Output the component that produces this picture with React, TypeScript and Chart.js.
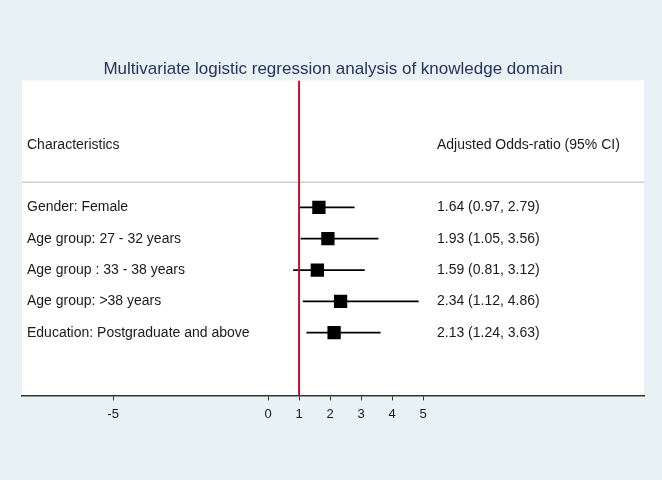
import React, { useEffect, useRef } from "react";
import { Chart, registerables } from "chart.js";

Chart.register(...registerables);

const titleText = "Multivariate logistic regression analysis of knowledge domain";
const headerLeft = "Characteristics";
const headerRight = "Adjusted Odds-ratio (95% CI)";
const characteristics = [
  "Gender: Female",
  "Age group: 27 - 32 years",
  "Age group : 33 - 38 years",
  "Age group: >38 years",
  "Education: Postgraduate and above",
];
const oddsRatio = [1.64, 1.93, 1.59, 2.34, 2.13];
const ciLower = [0.97, 1.05, 0.81, 1.12, 1.24];
const ciUpper = [2.79, 3.56, 3.12, 4.86, 3.63];
const xTickValues = [-5, 0, 1, 2, 3, 4, 5];
const referenceValue = 1;

const X_MIN = -7.94;
const X_MAX = 12.13;
const Y_MIN = -3.05;
const Y_MAX = 7;
const HEADER_ROW = -1;
const SEPARATOR_ROW = 0.2;

const BG = "#e8f1f4";
const FONT = '"Liberation Sans", Arial, Helvetica, sans-serif';

export default function App() {
  const ref = useRef<HTMLCanvasElement | null>(null);

  useEffect(() => {
    const canvas = ref.current;
    if (!canvas) return;

    const rows = characteristics.map((_, i) => i + 1);

    const bgPlugin = {
      id: "bgPlugin",
      beforeDraw(chart: any) {
        const { ctx, chartArea } = chart;
        ctx.save();
        ctx.fillStyle = "#ffffff";
        ctx.fillRect(0, 0, chart.width, chart.height);
        ctx.fillStyle = BG;
        ctx.fillRect(0, 0, chart.width, chart.height - 3);
        ctx.fillStyle = "#ffffff";
        ctx.fillRect(
          chartArea.left,
          chartArea.top,
          chartArea.right - chartArea.left,
          chartArea.bottom - chartArea.top
        );
        ctx.restore();
      },
      beforeDatasetsDraw(chart: any) {
        const { ctx, chartArea, scales } = chart;
        const ys = scales.y.getPixelForValue(SEPARATOR_ROW);
        ctx.save();
        ctx.strokeStyle = "#cfcfcf";
        ctx.lineWidth = 1.6;
        ctx.beginPath();
        ctx.moveTo(chartArea.left, ys);
        ctx.lineTo(chartArea.right, ys);
        ctx.stroke();

        ctx.fillStyle = "#1a1a1a";
        ctx.font = `14px ${FONT}`;
        ctx.textBaseline = "middle";
        ctx.textAlign = "left";
        const lx = chartArea.left + 5;
        const rx = scales.x.getPixelForValue(5.45);
        const yh = scales.y.getPixelForValue(HEADER_ROW);
        ctx.fillText(headerLeft, lx, yh);
        ctx.fillText(headerRight, rx, yh);
        characteristics.forEach((label, i) => {
          const y = scales.y.getPixelForValue(rows[i]);
          ctx.fillText(label, lx, y);
          const txt = `${oddsRatio[i].toFixed(2)} (${ciLower[i].toFixed(2)}, ${ciUpper[i].toFixed(2)})`;
          ctx.fillText(txt, rx, y);
        });
        ctx.restore();
      },
    };

    const ciDatasets = characteristics.map((_, i) => ({
      type: "line" as const,
      data: [
        { x: ciLower[i], y: rows[i] },
        { x: ciUpper[i], y: rows[i] },
      ],
      borderColor: "#000000",
      borderWidth: 1.8,
      pointRadius: 0,
      showLine: true,
      fill: false,
    }));

    const chart = new Chart(canvas, {
      type: "scatter",
      data: {
        datasets: [
          {
            type: "line",
            data: [
              { x: referenceValue, y: Y_MIN },
              { x: referenceValue, y: Y_MAX },
            ],
            borderColor: "#c8102e",
            borderWidth: 2,
            pointRadius: 0,
            showLine: true,
            fill: false,
          } as any,
          ...ciDatasets,
          {
            type: "scatter",
            data: oddsRatio.map((v, i) => ({ x: v, y: rows[i] })),
            pointStyle: "rect",
            pointRadius: 9.4,
            pointHoverRadius: 9.4,
            backgroundColor: "#000000",
            borderWidth: 0,
          } as any,
        ],
      },
      options: {
        animation: false,
        responsive: false,
        devicePixelRatio: 1,
        layout: { padding: { left: 22, right: 18, top: 0, bottom: 55 } },
        plugins: {
          legend: { display: false },
          tooltip: { enabled: false },
          title: {
            display: true,
            text: titleText,
            color: "#27355e",
            font: { family: FONT, size: 17, weight: "normal" },
            padding: { top: 59, bottom: 1 },
          },
        },
        scales: {
          x: {
            type: "linear",
            min: X_MIN,
            max: X_MAX,
            afterBuildTicks: (axis: any) => {
              axis.ticks = xTickValues.map((v) => ({ value: v }));
            },
            grid: {
              display: true,
              drawOnChartArea: false,
              drawTicks: true,
              tickLength: 5,
              color: "#333333",
              lineWidth: 1,
            },
            border: { display: true, color: "#333333", width: 1.5 },
            ticks: {
              color: "#1a1a1a",
              font: { family: FONT, size: 13 },
              padding: 6,
              autoSkip: false,
              maxRotation: 0,
              callback: (v: any) => String(v),
            },
          },
          y: {
            type: "linear",
            reverse: true,
            min: Y_MIN,
            max: Y_MAX,
            display: false,
          },
        },
      },
      plugins: [bgPlugin],
    });

    return () => chart.destroy();
  }, []);

  return (
    <div style={{ position: "absolute", left: 0, top: 0, width: 662, height: 483 }}>
      <canvas ref={ref} width={662} height={483} style={{ display: "block" }} />
    </div>
  );
}
